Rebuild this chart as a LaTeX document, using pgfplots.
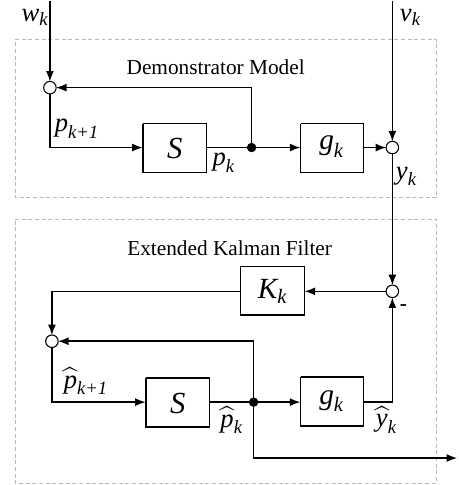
\documentclass[border=0pt]{standalone}
\usepackage{amsmath}
\usepackage{fontspec}
\setmainfont{Liberation Serif}
\usepackage{pgfplots}
\pgfplotsset{compat=1.18}
\usetikzlibrary{arrows.meta}
\newcommand{\iv}[1]{\text{\itshape #1}}
\tikzset{
  lab/.style={font=\fontsize{20}{24}\selectfont, inner sep=0pt},
  blk/.style={font=\fontsize{23}{27}\selectfont, inner sep=0pt},
}
\pgfplotsset{
  arr/.style={black, no marks, line width=1.2pt, -{Latex[length=8pt,width=6pt]}},
  ln/.style={black, no marks, line width=1.2pt},
}
\begin{document}
\begin{tikzpicture}
\begin{axis}[
  scale only axis, width=343.5pt, height=363.75pt,
  xmin=0, xmax=458, ymin=0, ymax=485, y dir=reverse,
  hide axis, clip=false,
]
\path (axis cs:0,0) rectangle (axis cs:458,485);
% dashed frames
\addplot[gray!55, no marks, line width=0.6pt, dash pattern=on 3pt off 2pt] coordinates {(15,39) (437,39) (437,197) (15,197) (15,39)};
\addplot[gray!55, no marks, line width=0.6pt, dash pattern=on 3pt off 2pt] coordinates {(15,219) (437,219) (437,483) (15,483) (15,219)};
% top model
\addplot[arr] coordinates {(50,0) (50,81)};
\addplot[arr] coordinates {(252,147) (252,87) (56,87)};
\addplot[arr] coordinates {(50,93) (50,147) (143,147)};
\addplot[ln] coordinates {(143,123) (207,123) (207,172) (143,172) (143,123)};
\addplot[arr] coordinates {(207,147) (301,147)};
\addplot[ln] coordinates {(301,123) (364,123) (364,172) (301,172) (301,123)};
\addplot[arr] coordinates {(364,147) (387,147)};
\addplot[arr] coordinates {(393,0) (393,141)};
\addplot[arr] coordinates {(393,153) (393,285)};
% bottom filter
\addplot[arr] coordinates {(387,291) (305,291)};
\addplot[ln] coordinates {(241,266) (305,266) (305,315) (241,315) (241,266)};
\addplot[arr] coordinates {(241,291) (52,291) (52,335)};
\addplot[arr] coordinates {(254,402) (254,341) (58,341)};
\addplot[arr] coordinates {(52,347) (52,402) (146,402)};
\addplot[ln] coordinates {(146,378) (210,378) (210,427) (146,427) (146,378)};
\addplot[arr] coordinates {(210,402) (301,402)};
\addplot[ln] coordinates {(301,377) (364,377) (364,426) (301,426) (301,377)};
\addplot[arr] coordinates {(364,402) (393,402) (393,297)};
\addplot[arr] coordinates {(254,402) (254,458) (458,458)};
% junctions
\addplot[only marks, mark=*, mark size=3.3pt, mark options={fill=black, draw=black}] coordinates {(252,147) (254,402)};
\addplot[only marks, mark=*, mark size=4.7pt, mark options={fill=white, draw=black, line width=0.8pt}] coordinates {(50,87) (393,147) (393,291) (52,341)};
% texts
\node[font=\fontsize{16}{19}\selectfont] at (axis cs:216,67) {Demonstrator Model};
\node[font=\fontsize{16}{19}\selectfont] at (axis cs:230,248) {Extended Kalman Filter};
\node[lab] at (axis cs:35,17) {$\iv{w}_{\iv{k}}$};
\node[lab] at (axis cs:411,17) {$\iv{v}_{\iv{k}}$};
\node[lab] at (axis cs:77,128) {$\iv{p}_{\iv{k+1}}$};
\node[lab] at (axis cs:224,162) {$\iv{p}_{\iv{k}}$};
\node[lab] at (axis cs:407,176) {$\iv{y}_{\iv{k}}$};
\node[lab] at (axis cs:86,381) {$\widehat{\iv{p}}_{\iv{k+1}}$};
\node[lab] at (axis cs:232,420) {$\widehat{\iv{p}}_{\iv{k}}$};
\node[lab] at (axis cs:387,420) {$\widehat{\iv{y}}_{\iv{k}}$};
\node[inner sep=0pt, font=\fontsize{16}{19}\selectfont\bfseries] at (axis cs:404,307) {-};
\node[blk] at (axis cs:175,148) {\itshape S};
\node[blk] at (axis cs:178,403) {\itshape S};
\node[blk, font=\fontsize{22}{26}\selectfont] at (axis cs:332,146) {$\iv{g}_{\iv{k}}$};
\node[blk, font=\fontsize{22}{26}\selectfont] at (axis cs:332,401) {$\iv{g}_{\iv{k}}$};
\node[blk, font=\fontsize{22}{26}\selectfont] at (axis cs:273,291) {$\iv{K}_{\iv{k}}$};
\end{axis}
\end{tikzpicture}
\end{document}
